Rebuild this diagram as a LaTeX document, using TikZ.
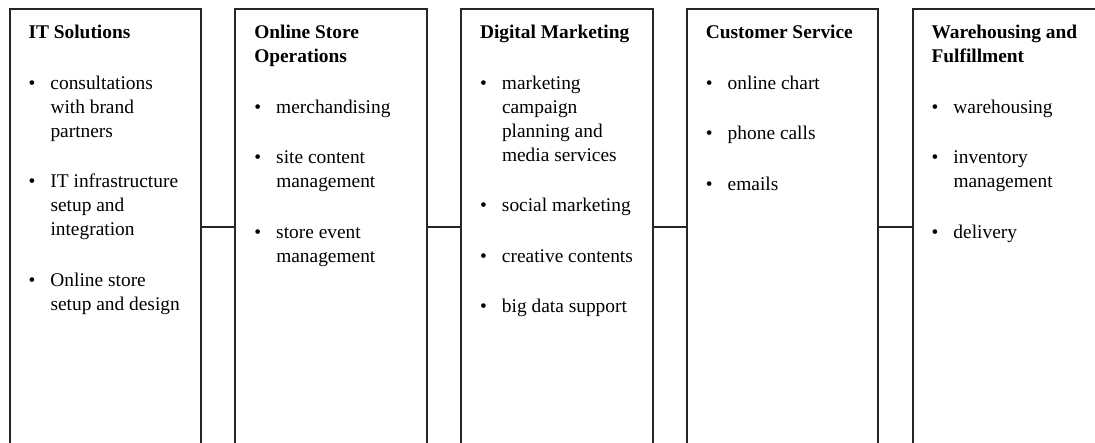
\documentclass[tikz,border=0pt]{standalone}
\usepackage{fontspec}
\setmainfont{Liberation Serif}
\usetikzlibrary{positioning}

\newcommand{\bitem}[1]{\par\vspace{26.5pt}\hangindent=22pt\hangafter=1\noindent\makebox[22pt][l]{\textbullet}#1\par}

\begin{document}
\begin{tikzpicture}[x=1pt,y=-1pt,
every node/.style={inner sep=0pt,outer sep=0pt},
mybox/.style={draw=black!85,line width=2pt,minimum width=191.5pt,minimum height=437pt},
mytext/.style={anchor=north west,text width=180pt,align=flush left,font=\fontsize{19.4}{24}\selectfont},
link/.style={draw=black!85,line width=2pt}]

\useasboundingbox (0,0) rectangle (1095,442);
\clip (0,0) rectangle (1095,442);

\node[mybox,anchor=north west] (itsol) at (9.5,8.5) {};
\node[mybox,right=34.25pt of itsol] (store) {};
\node[mybox,right=34.25pt of store] (mkt) {};
\node[mybox,right=34.25pt of mkt] (cserv) {};
\node[mybox,right=34.25pt of cserv] (wareh) {};

\node[mytext] (itsoltxt) at ([shift={(19pt,-17pt)}]itsol.north west) {\noindent\textbf{IT Solutions}
\bitem{consultations\newline with brand\newline partners}
\bitem{IT infrastructure\newline setup and\newline integration}
\bitem{Online store\newline setup and design}};

\node[mytext] (storetxt) at ([shift={(19pt,-17pt)}]store.north west) {\noindent\textbf{Online Store\newline Operations}
\bitem{merchandising}
\bitem{site content\newline management}
\bitem{store event\newline management}};

\node[mytext] (mkttxt) at ([shift={(19pt,-17pt)}]mkt.north west) {\noindent\textbf{Digital Marketing}
\bitem{marketing\newline campaign\newline planning and\newline media services}
\bitem{social marketing}
\bitem{creative contents}
\bitem{big data support}};

\node[mytext] (cservtxt) at ([shift={(19pt,-17pt)}]cserv.north west) {\noindent\textbf{Customer Service}
\bitem{online chart}
\bitem{phone calls}
\bitem{emails}};

\node[mytext] (warehtxt) at ([shift={(19pt,-17pt)}]wareh.north west) {\noindent\textbf{Warehousing and\newline Fulfillment}
\bitem{warehousing}
\bitem{inventory\newline management}
\bitem{delivery}};

\draw[link] (itsol) -- (store);
\draw[link] (store) -- (mkt);
\draw[link] (mkt) -- (cserv);
\draw[link] (cserv) -- (wareh);

\end{tikzpicture}
\end{document}
